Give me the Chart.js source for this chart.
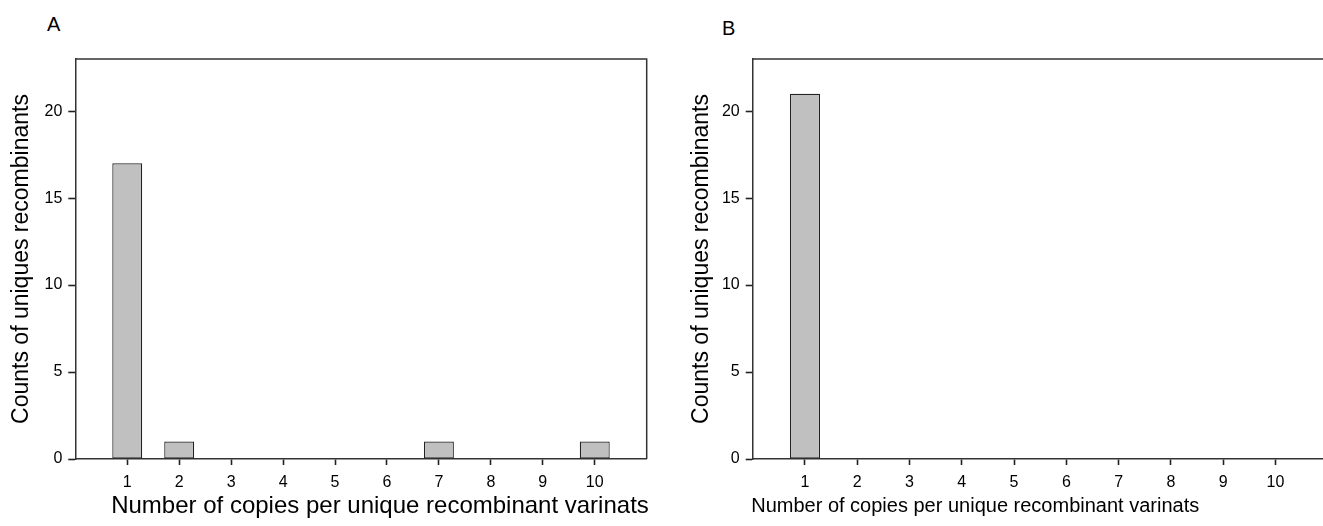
<!DOCTYPE html>
<html>
<head>
<meta charset="utf-8">
<script src="https://cdn.jsdelivr.net/npm/chart.js@4.4.1/dist/chart.umd.min.js"></script>
<style>
html, body { margin: 0; padding: 0; background: #fff; overflow: hidden; width: 1323px; height: 526px; }
.panel { position: absolute; top: 0; height: 526px; }
#wrapA { left: 0; width: 660px; }
#wrapB { left: 680px; width: 680px; }
.tag { position: absolute; font: 20px "Liberation Sans", Arial, sans-serif; color: #000; }
</style>
</head>
<body>
<div class="tag" style="left:47px; top:13px;">A</div>
<div class="tag" style="left:722px; top:17px;">B</div>
<div class="panel" id="wrapA"><canvas id="chartA"></canvas></div>
<div class="panel" id="wrapB"><canvas id="chartB"></canvas></div>
<script>
// data
const copies = [1, 2, 3, 4, 5, 6, 7, 8, 9, 10];
const countsA = [17, 1, 0, 0, 0, 0, 1, 0, 0, 1];
const countsB = [21, 0, 0, 0, 0, 0, 0, 0, 0, 0];
const yTicks = [0, 5, 10, 15, 20];
const xTicks = [1, 2, 3, 4, 5, 6, 7, 8, 9, 10];
const xTitle = 'Number of copies per unique recombinant varinats';
const yTitle = 'Counts of uniques recombinants';

const FONT = '"Liberation Sans", Arial, sans-serif';
const AXIS = '#333';

// top + right side of the box
const frame = {
    id: 'frame',
    afterDraw(chart) {
        const { ctx, chartArea: { left, top, right, bottom } } = chart;
        ctx.save();
        ctx.strokeStyle = AXIS;
        ctx.lineWidth = 1.5;
        ctx.beginPath();
        ctx.moveTo(left, top);
        ctx.lineTo(right, top);
        ctx.lineTo(right, bottom);
        ctx.stroke();
        ctx.restore();
    }
};

// x axis title, placed a bit off-centre like in the figure
const xLabel = {
    id: 'xLabel',
    afterDraw(chart, args, opts) {
        const { ctx, chartArea: { left, right } } = chart;
        ctx.save();
        ctx.font = opts.size + 'px ' + FONT;
        ctx.fillStyle = '#000';
        ctx.textAlign = 'center';
        ctx.textBaseline = 'middle';
        ctx.fillText(xTitle, (left + right) / 2 + opts.shift, 506);
        ctx.restore();
    }
};

function makeChart(id, counts, yAxisWidth, rightPad, xSize, xShift) {
    return new Chart(document.getElementById(id), {
        type: 'bar',
        data: {
            datasets: [{
                data: copies.map((c, i) => ({ x: c, y: counts[i] })),
                backgroundColor: '#c0c0c0',
                borderColor: '#222',
                borderWidth: 1.2,
                borderSkipped: false,
                barPercentage: 0.72,
                categoryPercentage: 0.8
            }]
        },
        options: {
            responsive: true,
            maintainAspectRatio: false,
            animation: false,
            layout: { padding: { top: 59, right: rightPad, bottom: 0, left: 0 } },
            plugins: {
                legend: { display: false },
                tooltip: { enabled: false },
                xLabel: { size: xSize, shift: xShift }
            },
            scales: {
                x: {
                    type: 'linear',
                    min: 0,
                    max: 11,
                    offset: false,
                    afterBuildTicks: s => { s.ticks = xTicks.map(v => ({ value: v })); },
                    afterFit: s => { s.height = 67; },
                    grid: { offset: false, drawOnChartArea: false, drawTicks: true, tickLength: 6, color: AXIS, tickColor: '#222', tickWidth: 1.6 },
                    border: { color: AXIS, width: 1.5 },
                    ticks: { color: '#000', font: { family: FONT, size: 16 }, padding: 8, maxRotation: 0, autoSkip: false }
                },
                y: {
                    min: 0,
                    max: 23,
                    afterBuildTicks: s => { s.ticks = yTicks.map(v => ({ value: v })); },
                    afterFit: s => { s.width = yAxisWidth; },
                    grid: { drawOnChartArea: false, drawTicks: true, tickLength: 7, color: AXIS, tickColor: '#222', tickWidth: 1.6 },
                    border: { color: AXIS, width: 1.5 },
                    ticks: { color: '#000', font: { family: FONT, size: 16 }, padding: 6 },
                    title: { display: true, text: yTitle, color: '#000', font: { family: FONT, size: 23 }, padding: { top: 8, bottom: 0 } }
                }
            }
        },
        plugins: [frame, xLabel]
    });
}

makeChart('chartA', countsA, 75.3, 13.3, 24, 19);
makeChart('chartB', countsB, 72.7, 32.3, 20, -65);
</script>
</body>
</html>
